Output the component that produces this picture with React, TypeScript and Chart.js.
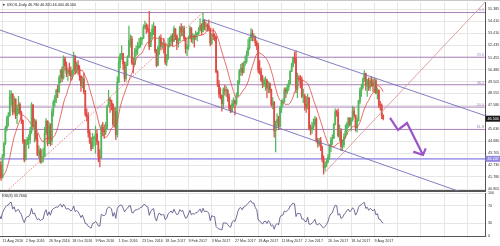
import React, { useEffect, useRef } from "react";
import { Chart, registerables } from "chart.js";

Chart.register(...registerables);

// Daily bars. Bar index 0 = 11 Aug 2016; the arrays start 16 bars earlier (20 Jul 2016) as indicator warm-up.
const FIRST_BAR = -16;

const closes = [
  44.94, 44.75, 44.19, 43.13, 42.92, 41.92, 41.14, 41.6, 40.06, 39.51, 40.83, 41.93, 41.8, 43.02, 42.77, 41.71,
  43.49, 44.49, 45.74, 46.58, 46.79, 48.22, 48.52, 47.05, 48.1, 46.77,
  47.33, 47.64, 46.98, 46.35, 44.7, 43.16, 44.44, 44.8, 44.83, 45.5,
  47.62, 45.88, 46.29, 44.9, 43.58, 43.91, 43.03, 43.3, 43.44, 45.34,
  46.32, 44.48, 45.93, 44.67, 47.05, 47.83, 48.24, 48.81, 48.69, 49.83,
  50.44, 49.81, 51.35, 50.79, 50.18, 50.44, 50.35, 49.94, 50.29, 51.6,
  50.43, 50.85, 50.52, 49.96, 49.18, 49.72, 48.7, 46.86, 46.67, 45.34,
  44.66, 44.07, 44.89, 44.98, 45.27, 44.66, 43.41, 43.32, 45.81, 45.57,
  45.42, 45.69, 47.49, 48.03, 47.96, 47.7, 46.06, 47.08, 45.23, 49.44,
  51.06, 51.68, 51.79, 50.93, 49.77, 50.84, 51.5, 52.83, 52.98, 51.04,
  50.9, 51.9, 52.12, 52.23, 52.49, 52.95, 53.02, 53.9, 54.06, 53.77,
  53.72, 52.33, 53.26, 53.76, 53.99, 51.96, 50.82, 52.25, 53.01, 52.37,
  52.5, 52.48, 51.08, 51.37, 52.42, 52.75, 53.18, 52.75, 53.78, 53.17,
  52.63, 52.81, 53.88, 53.54, 53.83, 53.01, 52.17, 52.34, 53.0, 53.86,
  52.93, 53.2, 53.11, 53.36, 53.4, 53.7, 54.06, 53.59, 54.45, 53.99,
  54.05, 54.01, 53.83, 52.61, 53.33, 53.2, 53.14, 50.28, 49.28, 48.49,
  48.4, 47.72, 48.86, 48.75, 48.78, 48.22, 47.34, 47.04, 47.7, 47.97,
  47.73, 48.37, 49.51, 50.35, 50.6, 50.24, 51.03, 51.15, 51.7, 52.24,
  53.08, 53.4, 53.11, 53.18, 52.65, 52.41, 50.44, 50.27, 49.62, 49.23,
  49.56, 49.62, 48.97, 49.33, 48.84, 47.66, 47.82, 45.52, 46.22, 46.43,
  45.88, 47.33, 47.83, 47.84, 48.85, 48.66, 49.07, 49.35, 50.33, 50.73,
  51.47, 51.36, 48.9, 49.8, 49.7, 49.66, 48.32, 48.36, 47.66, 47.4,
  48.19, 45.72, 45.64, 45.83, 46.08, 46.46, 44.73, 44.46, 44.68, 44.2,
  43.23, 42.53, 42.74, 43.01, 43.38, 44.24, 44.74, 44.93, 46.04, 47.07,
  47.0, 45.13, 45.52, 44.23, 44.4, 45.04, 45.49, 46.08, 46.54, 46.02,
  46.4, 47.12, 46.79, 45.77, 46.34, 47.89, 48.75, 49.04, 49.71, 50.17,
  49.16, 49.59, 49.03, 49.58, 49.39, 49.17, 49.56, 48.59, 48.82, 47.59,
  47.55, 46.78, 46.5,
];

const highs = [
  45.2, 45.3, 44.9, 44.3, 43.4, 43.3, 42.0, 41.8, 41.7, 40.6, 41.0, 42.1, 42.5, 43.5, 43.4, 43.0,
  43.6, 44.6, 45.9, 46.7, 47.0, 48.8, 48.75, 48.5, 48.3, 48.1,
  47.6, 48.3, 47.8, 47.1, 46.4, 44.8, 44.8, 45.0, 45.2, 45.8,
  47.8, 47.4, 46.5, 46.4, 45.3, 44.3, 44.1, 44.0, 44.1, 45.8,
  46.5, 46.2, 46.2, 46.1, 47.3, 48.0, 48.4, 48.9, 49.2, 50.0,
  50.5, 50.7, 51.6, 51.5, 51.1, 50.6, 51.0, 50.7, 50.5, 51.9,
  51.6, 51.1, 51.2, 50.8, 50.0, 49.9, 50.2, 48.8, 47.3, 47.0,
  45.6, 45.0, 45.3, 45.1, 45.9, 45.6, 44.7, 44.0, 46.0, 46.2,
  46.0, 46.2, 47.6, 48.8, 48.2, 48.0, 47.6, 47.4, 47.4, 49.9,
  51.5, 51.8, 52.4, 51.8, 51.1, 51.1, 51.6, 54.0, 53.3, 53.2,
  51.4, 52.2, 52.4, 52.7, 53.0, 53.1, 53.1, 54.1, 54.4, 54.2,
  54.1, 55.2, 53.5, 54.1, 54.3, 54.0, 52.1, 52.4, 53.2, 53.3,
  52.7, 53.0, 52.6, 51.7, 53.0, 53.1, 53.3, 53.4, 54.0, 53.8,
  53.3, 53.0, 54.0, 54.2, 54.0, 54.0, 53.1, 52.5, 53.2, 54.0,
  53.8, 53.4, 53.3, 53.6, 53.5, 53.9, 54.6, 54.2, 55.1, 54.5,
  54.3, 54.2, 54.5, 53.8, 53.4, 53.8, 53.4, 53.2, 50.4, 49.6,
  49.0, 48.3, 49.0, 49.2, 49.1, 48.9, 48.5, 47.6, 48.0, 48.2,
  48.0, 48.6, 49.6, 50.5, 50.9, 51.0, 51.1, 51.6, 52.0, 52.9,
  53.1, 53.8, 53.7, 53.4, 53.2, 52.8, 52.6, 51.2, 50.6, 50.0,
  49.8, 49.9, 49.7, 49.5, 49.4, 48.9, 48.2, 47.9, 46.3, 46.9,
  46.7, 47.5, 48.0, 48.1, 49.0, 49.0, 49.3, 49.6, 50.4, 51.0,
  51.5, 51.9, 52.0, 50.2, 50.0, 50.0, 49.9, 48.9, 48.5, 48.3,
  48.5, 48.2, 46.0, 46.2, 46.5, 46.7, 46.6, 44.9, 44.9, 45.0,
  44.3, 43.5, 43.0, 43.2, 43.6, 44.4, 45.0, 45.2, 46.1, 47.3,
  47.2, 47.3, 46.0, 45.7, 44.8, 45.3, 46.0, 46.2, 46.6, 46.6,
  46.6, 47.5, 47.4, 46.8, 46.6, 48.0, 49.0, 49.3, 49.8, 50.4,
  50.2, 49.7, 49.8, 49.8, 49.9, 49.7, 49.8, 49.7, 49.0, 48.8,
  47.9, 47.7, 46.82,
];

const lows = [
  44.5, 44.4, 44.0, 43.0, 42.6, 41.8, 40.6, 40.6, 39.9, 39.2, 39.8, 40.5, 41.4, 41.5, 42.4, 41.5,
  41.7, 43.3, 44.4, 45.5, 45.9, 46.7, 47.6, 46.8, 46.9, 46.5,
  46.1, 46.9, 46.8, 46.1, 44.5, 43.0, 43.2, 44.4, 44.1, 44.5,
  45.3, 45.7, 44.6, 44.7, 43.5, 43.3, 42.9, 42.9, 43.0, 43.9,
  45.2, 44.3, 44.5, 44.3, 44.4, 46.7, 47.5, 47.8, 48.2, 48.6,
  49.4, 49.5, 49.7, 50.4, 49.9, 49.6, 50.0, 49.6, 49.7, 50.1,
  50.1, 50.2, 50.1, 49.6, 48.7, 49.0, 48.5, 46.7, 46.3, 45.0,
  44.5, 43.9, 44.3, 44.3, 43.7, 44.4, 43.0, 42.6, 43.4, 45.1,
  44.9, 45.2, 45.8, 47.5, 47.0, 47.2, 45.9, 45.8, 44.8, 45.0,
  49.5, 50.6, 51.3, 50.5, 49.5, 49.6, 50.8, 51.8, 52.3, 50.9,
  50.2, 51.0, 51.6, 51.7, 52.3, 52.3, 52.5, 53.0, 53.8, 53.4,
  53.5, 52.1, 52.4, 53.0, 53.3, 51.8, 50.7, 50.9, 51.7, 52.1,
  52.2, 51.8, 50.9, 50.8, 51.3, 52.3, 52.5, 52.4, 52.8, 52.9,
  52.1, 52.3, 52.9, 53.2, 53.2, 52.8, 51.8, 51.6, 52.1, 53.0,
  52.7, 52.6, 52.3, 52.9, 52.8, 53.3, 53.6, 53.3, 53.5, 53.7,
  53.6, 53.6, 53.6, 52.4, 52.5, 52.9, 52.8, 50.2, 49.1, 48.2,
  48.1, 47.1, 47.4, 48.4, 48.3, 47.9, 47.2, 47.0, 47.1, 47.4,
  46.8, 47.6, 48.3, 49.3, 50.0, 50.0, 50.2, 50.8, 51.0, 51.6,
  52.1, 52.8, 52.8, 52.8, 52.4, 52.1, 50.2, 50.1, 49.5, 49.0,
  49.1, 48.8, 48.2, 48.6, 48.6, 47.5, 47.3, 45.0, 43.8, 45.9,
  45.6, 45.8, 47.0, 47.5, 48.0, 48.2, 48.5, 48.8, 49.3, 50.3,
  50.7, 51.0, 48.6, 48.2, 49.5, 49.0, 48.2, 47.8, 47.2, 47.0,
  47.3, 45.6, 45.2, 45.3, 45.6, 45.9, 44.6, 44.2, 44.3, 43.9,
  43.0, 42.0, 42.3, 42.6, 42.9, 43.2, 43.8, 44.4, 44.9, 46.0,
  46.7, 45.0, 44.7, 43.9, 43.9, 44.2, 44.9, 45.2, 45.8, 45.9,
  45.5, 46.3, 46.6, 45.5, 45.4, 46.3, 47.7, 48.3, 48.9, 49.5,
  48.8, 48.3, 48.8, 48.8, 49.1, 48.7, 48.6, 48.5, 48.1, 47.4,
  47.2, 46.5, 46.4,
];

const dateLabels = [
  "11 Aug 2016", "2 Sep 2016", "26 Sep 2016", "18 Oct 2016", "9 Nov 2016", "1 Dec 2016",
  "23 Dec 2016", "18 Jan 2017", "9 Feb 2017", "3 Mar 2017", "27 Mar 2017", "19 Apr 2017",
  "11 May 2017", "2 Jun 2017", "26 Jun 2017", "18 Jul 2017", "9 Aug 2017",
];
const DATE_STEP = 16;
const GRID_COLUMNS = 21;

const priceTicks = [
  55.385, 54.41, 53.41, 52.435, 51.455, 50.48, 49.505, 48.555, 47.58,
  45.63, 44.68, 43.705, 42.73, 41.78, 40.805,
];
const rsiTicks = [100, 70, 30, 0];

const fibLevels = [55.1, 51.48, 49.25, 47.44, 45.63];
const fibNames = ["0.0", "23.6", "38.2", "50.0", "61.8"];
const supportLevel = 43.247;
const lastPrice = 46.5;
const titleText = "USOIL,Daily 46.780 46.820 46.400 46.500";
const rsiTitle = "RSI(8) 33.7660";
const MA_PERIOD = 14;
const RSI_PERIOD = 8;

// hand-drawn objects: points are (bar index, price)
const fibDiagonal = [{ x: -5, y: 39.78 }, { x: 138, y: 55.1 }];
const lowerChannel = [{ x: -5, y: 53.82 }, { x: 330, y: 39.96 }];
const upperChannel = [{ x: 138, y: 54.55 }, { x: 340, y: 46.43 }];
const fanLine = [{ x: 221, y: 42.05 }, { x: 335, y: 56.3 }];
const arrowPath = [
  { x: 266.7, y: 46.56 }, { x: 272.2, y: 45.585 }, { x: 278.4, y: 46.15 }, { x: 289.4, y: 43.56 },
];
const arrowHead = [{ x: 282.7, y: 43.83 }, { x: 289.4, y: 43.56 }, { x: 291.3, y: 44.1 }];

// view
const X_MIN = -1.72;
const X_MAX = 332.07;
const Y_MIN = 40.643;
const Y_MAX = 55.952;

const FONT = "'Liberation Sans', Arial, sans-serif";
const FS = 3.7;
const UP = "#52b85a";
const DOWN = "#e24a44";
const GRID = "#e6e6e6";
const FIB = "#a982ba";
const CHANNEL = "#7471bb";

const xs = closes.map((_, k) => FIRST_BAR + k);
const opens = closes.map((c, k) => (k === 0 ? c : closes[k - 1]));

function sma(values: number[], period: number) {
  return values.map((_, i) => {
    if (i < period - 1) return null;
    let s = 0;
    for (let j = i - period + 1; j <= i; j++) s += values[j];
    return s / period;
  });
}

function rsi(values: number[], period: number) {
  const out: (number | null)[] = values.map(() => null);
  let g = 0, l = 0;
  for (let i = 1; i <= period; i++) {
    const d = values[i] - values[i - 1];
    if (d > 0) g += d; else l -= d;
  }
  g /= period; l /= period;
  out[period] = 100 - 100 / (1 + g / (l || 1e-9));
  for (let i = period + 1; i < values.length; i++) {
    const d = values[i] - values[i - 1];
    g = (g * (period - 1) + Math.max(d, 0)) / period;
    l = (l * (period - 1) + Math.max(-d, 0)) / period;
    out[i] = 100 - 100 / (1 + g / (l || 1e-9));
  }
  return out;
}

function lineDs(data: any[], color: string, width: number, dash: number[] = [], order = 0) {
  return {
    type: "line" as const,
    data,
    borderColor: color,
    borderWidth: width,
    borderDash: dash,
    pointRadius: 0,
    tension: 0,
    fill: false,
    spanGaps: false,
    order,
  };
}

function gridTicks(scale: any) {
  scale.ticks = Array.from({ length: GRID_COLUMNS }, (_, k) => ({ value: k * DATE_STEP }));
}

function drawBox(ctx: CanvasRenderingContext2D, left: number, y: number, text: string, bg: string) {
  ctx.fillStyle = bg;
  ctx.fillRect(left + 0.5, y - 3, 500 - left, 6);
  ctx.fillStyle = "#ffffff";
  ctx.textAlign = "left";
  ctx.textBaseline = "middle";
  ctx.fillText(text, left + 2.5, y + 0.2);
}

const mainOverlay = {
  id: "mainOverlay",
  afterDraw(chart: any) {
    const { ctx, chartArea, scales } = chart;
    const y = scales.y;
    ctx.save();
    ctx.font = `${FS}px ${FONT}`;
    ctx.fillStyle = FIB;
    ctx.textAlign = "right";
    ctx.textBaseline = "bottom";
    fibLevels.forEach((lv, k) => ctx.fillText(fibNames[k], chartArea.right - 1, y.getPixelForValue(lv) - 0.3));
    drawBox(ctx, chartArea.right, y.getPixelForValue(supportLevel), supportLevel.toFixed(3), "#9288e2");
    drawBox(ctx, chartArea.right, y.getPixelForValue(lastPrice), lastPrice.toFixed(3), "#1b1b1b");
    ctx.fillStyle = "#222";
    ctx.textAlign = "left";
    ctx.textBaseline = "middle";
    ctx.fillText("\u25BC " + titleText, 2, 4.5);
    ctx.strokeStyle = "#c8c8c8";
    ctx.lineWidth = 1;
    ctx.beginPath();
    ctx.moveTo(0, 0.5);
    ctx.lineTo(500, 0.5);
    ctx.stroke();
    ctx.restore();
  },
};

const rsiOverlay = {
  id: "rsiOverlay",
  afterDraw(chart: any) {
    const { ctx, chartArea } = chart;
    ctx.save();
    ctx.font = `${FS}px ${FONT}`;
    ctx.fillStyle = "#222";
    ctx.textAlign = "left";
    ctx.textBaseline = "middle";
    ctx.fillText(rsiTitle, 2, chartArea.top + 3);
    ctx.restore();
  },
};

function mainConfig(): any {
  const bodies = xs.map((x, k) => ({ x, y: [opens[k], closes[k]] }));
  const wicks = xs.map((x, k) => ({
    x,
    y: [Math.min(lows[k], opens[k], closes[k]), Math.max(highs[k], opens[k], closes[k])],
  }));
  const colors = xs.map((_, k) => (closes[k] >= opens[k] ? UP : DOWN));
  const ma = sma(closes, MA_PERIOD);
  const maData = xs.map((x, k) => ({ x, y: ma[k] }));
  const fibDs = fibLevels.map((lv) =>
    lineDs([{ x: X_MIN - 2, y: lv }, { x: X_MAX + 2, y: lv }], FIB, 1, [], 3)
  );
  return {
    type: "bar",
    data: {
      datasets: [
        ...fibDs,
        lineDs([{ x: X_MIN - 2, y: supportLevel }, { x: X_MAX + 2, y: supportLevel }], "#aaa3ea", 1.6, [], 3),
        {
          type: "bar",
          data: wicks,
          backgroundColor: colors,
          grouped: false,
          barPercentage: 1,
          categoryPercentage: 1,
          maxBarThickness: 0.6,
          order: 2,
        },
        {
          type: "bar",
          data: bodies,
          backgroundColor: colors,
          grouped: false,
          barPercentage: 1,
          categoryPercentage: 1,
          maxBarThickness: 1.15,
          minBarLength: 1,
          order: 1,
        },
        lineDs(maData, "#de4a45", 0.8, [], 0),
        lineDs(fibDiagonal, "#e0605a", 0.8, [1.5, 1.5], 0),
        lineDs(lowerChannel, CHANNEL, 0.9, [], 0),
        lineDs(upperChannel, CHANNEL, 0.9, [], 0),
        lineDs(fanLine, "#d99a96", 0.9, [], 0),
        lineDs(arrowPath, "#9b55c8", 2.2, [], 0),
        lineDs(arrowHead, "#9b55c8", 2.2, [], 0),
      ],
    },
    options: {
      animation: false,
      responsive: false,
      maintainAspectRatio: false,
      devicePixelRatio: 1,
      events: [],
      layout: { padding: { top: 2, bottom: 2, left: 0, right: 0 } },
      plugins: { legend: { display: false }, tooltip: { enabled: false } },
      scales: {
        x: {
          type: "linear",
          min: X_MIN,
          max: X_MAX,
          offset: false,
          grid: { color: GRID, lineWidth: 1, drawTicks: false, offset: false },
          border: { display: true, color: "#555", width: 2 },
          ticks: { display: false },
          afterBuildTicks: gridTicks,
          afterFit: (s: any) => {
            s.height = 0;
            s.paddingLeft = 0;
            s.paddingRight = 0;
          },
        },
        y: {
          type: "linear",
          position: "right",
          min: Y_MIN,
          max: Y_MAX,
          grid: { color: GRID, lineWidth: 1, tickLength: 2 },
          border: { display: true, color: "#555", width: 1 },
          ticks: {
            font: { size: FS, family: FONT },
            color: "#333",
            padding: 1,
            callback: (v: number) => v.toFixed(3),
          },
          afterBuildTicks: (s: any) => {
            s.ticks = priceTicks.map((v) => ({ value: v }));
          },
          afterFit: (s: any) => {
            s.width = 15;
            s.paddingTop = 0;
            s.paddingBottom = 0;
          },
        },
      },
    },
    plugins: [mainOverlay],
  };
}

function rsiConfig(): any {
  const r = rsi(closes, RSI_PERIOD);
  const data = xs.map((x, k) => ({ x, y: r[k] }));
  return {
    type: "line",
    data: { datasets: [lineDs(data, "#5d5b8c", 0.9)] },
    options: {
      animation: false,
      responsive: false,
      maintainAspectRatio: false,
      devicePixelRatio: 1,
      events: [],
      layout: { padding: { top: 7, bottom: 0, left: 0, right: 0 } },
      plugins: { legend: { display: false }, tooltip: { enabled: false } },
      scales: {
        x: {
          type: "linear",
          min: X_MIN,
          max: X_MAX,
          offset: false,
          grid: { color: GRID, lineWidth: 1, tickLength: 2 },
          border: { display: true, color: "#555", width: 1 },
          ticks: {
            font: { size: FS, family: FONT },
            color: "#333",
            align: "start",
            padding: 1,
            maxRotation: 0,
            minRotation: 0,
            autoSkip: false,
            callback: (_v: number, i: number) => dateLabels[i] ?? "",
          },
          afterBuildTicks: gridTicks,
          afterFit: (s: any) => {
            s.height = 10;
            s.paddingLeft = 0;
            s.paddingRight = 0;
          },
        },
        y: {
          type: "linear",
          position: "right",
          min: 0,
          max: 100,
          grid: { color: GRID, lineWidth: 1, tickLength: 2 },
          border: { display: true, color: "#555", width: 1 },
          ticks: {
            font: { size: FS, family: FONT },
            color: "#333",
            padding: 1,
            callback: (v: number) => String(v),
          },
          afterBuildTicks: (s: any) => {
            s.ticks = rsiTicks.map((v) => ({ value: v }));
          },
          afterFit: (s: any) => {
            s.width = 15;
            s.paddingTop = 0;
            s.paddingBottom = 0;
          },
        },
      },
    },
    plugins: [rsiOverlay],
  };
}

export default function App() {
  const mainRef = useRef<HTMLCanvasElement>(null);
  const rsiRef = useRef<HTMLCanvasElement>(null);
  useEffect(() => {
    const main = new Chart(mainRef.current as HTMLCanvasElement, mainConfig());
    const osc = new Chart(rsiRef.current as HTMLCanvasElement, rsiConfig());
    return () => {
      main.destroy();
      osc.destroy();
    };
  }, []);
  return (
    <div style={{ position: "fixed", left: 0, top: 0, width: 500, height: 246, background: "#fff", overflow: "hidden" }}>
      <canvas ref={mainRef} width={500} height={193} style={{ position: "absolute", left: 0, top: 0, width: 500, height: 193 }} />
      <canvas ref={rsiRef} width={500} height={60} style={{ position: "absolute", left: 0, top: 186, width: 500, height: 60 }} />
    </div>
  );
}
